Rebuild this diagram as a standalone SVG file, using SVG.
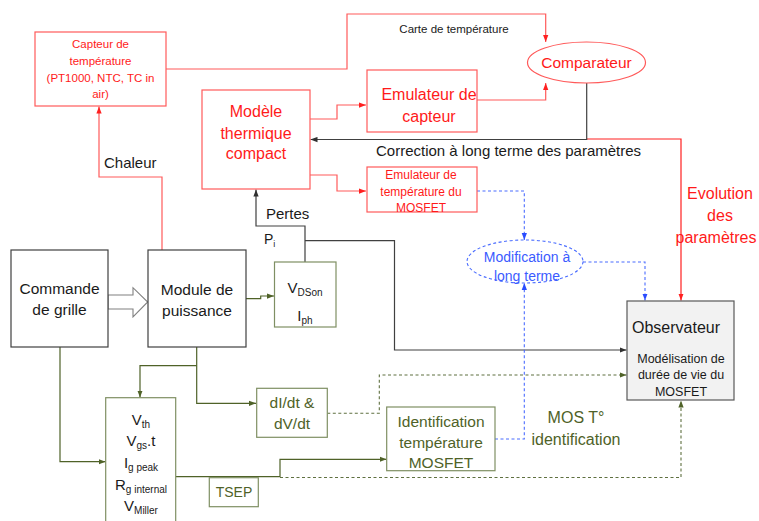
<svg xmlns="http://www.w3.org/2000/svg" width="759" height="521" viewBox="0 0 759 521">
<defs>
<style>
text{font-family:"Liberation Sans","DejaVu Sans",sans-serif;}
.bx{fill:#fff;stroke:#404040;stroke-width:1.2}
.rb{fill:#fff;stroke:#ff5a5a;stroke-width:1.2}
.gb{fill:#fff;stroke:#7f8f63;stroke-width:1.2}
.rt{fill:#ff1a1a}
.kt{fill:#1a1a1a}
.gt{fill:#4f6228}
.bt{fill:#3b5bff}
.c{text-anchor:middle}
.lr{fill:none;stroke:#ff5a5a;stroke-width:1.2;marker-end:url(#ar)}
.lr2{fill:none;stroke:#ff2020;stroke-width:1.2;marker-end:url(#ar)}
.lk{fill:none;stroke:#404040;stroke-width:1.2}
.lka{fill:none;stroke:#404040;stroke-width:1.2;marker-end:url(#ak)}
.lg{fill:none;stroke:#4f6228;stroke-width:1.2;marker-end:url(#ag)}
.lgd{fill:none;stroke:#5f7040;stroke-width:1.1;stroke-dasharray:3 2.5;marker-end:url(#ag)}
.lbd{fill:none;stroke:#4a6cff;stroke-width:1.1;stroke-dasharray:3 2.5;marker-end:url(#ab)}
</style>
<marker id="ar" viewBox="0 0 8 6" refX="8" refY="3" markerWidth="7" markerHeight="6" markerUnits="userSpaceOnUse" orient="auto"><path d="M0,0L8,3L0,6z" fill="#ff2020"/></marker>
<marker id="ak" viewBox="0 0 8 6" refX="8" refY="3" markerWidth="7" markerHeight="6" markerUnits="userSpaceOnUse" orient="auto"><path d="M0,0L8,3L0,6z" fill="#303030"/></marker>
<marker id="ag" viewBox="0 0 8 6" refX="8" refY="3" markerWidth="7" markerHeight="6" markerUnits="userSpaceOnUse" orient="auto"><path d="M0,0L8,3L0,6z" fill="#4f6228"/></marker>
<marker id="ab" viewBox="0 0 8 6" refX="8" refY="3" markerWidth="7" markerHeight="6" markerUnits="userSpaceOnUse" orient="auto"><path d="M0,0L8,3L0,6z" fill="#2a4cff"/></marker>
</defs>
<rect width="759" height="521" fill="#fff"/>

<g id="connectors">
<polyline class="lr" points="166,69 347,69 347,14 545.7,14 545.7,42"/>
<polyline class="lr" points="477,100 545.7,100 545.7,83"/>
<polyline class="lr" points="310,119 337,119 337,105 366,105"/>
<polyline class="lr" points="310,175 337,175 337,191 366,191"/>
<polyline class="lr" points="162,250 162,177 99,177 99,106.5"/>
<polyline class="lr2" points="587,139 681,139 681,300.5"/>
<polyline class="lka" points="586.7,83 586.7,139.5 310.5,139.5"/>
<polyline class="lka" points="305,262 305,226 256,226 256,189.5"/>
<polyline class="lka" points="305,240.7 394.5,240.7 394.5,350 626.5,350"/>
<polyline class="lg" points="246,298.7 260.7,298.7 260.7,296 274,296"/>
<polyline class="lg" points="196.7,347 196.7,403.3 256,403.3"/>
<polyline class="lg" points="196.7,365.7 140,365.7 140,397.5"/>
<polyline class="lg" points="60,347 60,461.7 105.5,461.7"/>
<polyline class="lg" points="175.7,476.7 280,476.7 280,459.3 386.5,459.3"/>
<polyline class="lgd" points="327.3,413.3 379.3,413.3 379.3,375 626.5,375"/>
<polyline class="lgd" points="280,477.5 681,477.5 681,400.5"/>
<polyline class="lbd" points="477,191 524.3,191 524.3,240"/>
<polyline class="lbd" points="583,262 645,262 645,300.5"/>
<polyline class="lbd" points="495,439 524.3,439 524.3,283"/>
<polygon points="108,295 133,295 133,287.7 147.7,302 133,317 133,309 108,309" fill="#fff" stroke="#808080" stroke-width="1.1"/>
</g>

<g id="labels">
<text class="kt c" x="454" y="33" font-size="11.5">Carte de température</text>
<text class="kt" x="376" y="156" font-size="15">Correction à long terme des paramètres</text>
<text class="rt c" x="720" y="199" font-size="16">Evolution</text>
<text class="rt c" x="720" y="221" font-size="16">des</text>
<text class="rt c" x="716" y="243" font-size="16">paramètres</text>
<text class="kt" x="104" y="168" font-size="15">Chaleur</text>
<text class="kt" x="266" y="219" font-size="15">Pertes</text>
<text class="kt" x="264" y="244" font-size="14">P<tspan font-size="9" dy="3">i</tspan></text>
<text class="gt c" x="576" y="423" font-size="16">MOS T°</text>
<text class="gt c" x="576" y="444.5" font-size="16">identification</text>
</g>

<g id="capteur">
<rect class="rb" x="35" y="32" width="131" height="74"/>
<text class="rt c" font-size="11.5"><tspan x="100.5" y="48">Capteur de</tspan><tspan x="100.5" y="65">température</tspan><tspan x="100.5" y="82">(PT1000, NTC, TC in</tspan><tspan x="100.5" y="98">air)</tspan></text>
</g>

<g id="comparateur">
<ellipse cx="586.5" cy="62.5" rx="59" ry="20.5" fill="#fff" stroke="#ff5a5a" stroke-width="1.2"/>
<text class="rt c" x="586.5" y="68" font-size="15.5">Comparateur</text>
</g>

<g id="emulateur-capteur">
<rect class="rb" x="367" y="70" width="110" height="62"/>
<text class="rt c" font-size="16"><tspan x="429" y="100">Emulateur de</tspan><tspan x="429" y="122">capteur</tspan></text>
</g>

<g id="modele">
<rect class="rb" x="202" y="90" width="108" height="99"/>
<text class="rt c" font-size="16"><tspan x="256" y="117">Modèle</tspan><tspan x="256" y="139">thermique</tspan><tspan x="256" y="159">compact</tspan></text>
</g>

<g id="emulateur-temp">
<rect class="rb" x="367" y="167" width="110" height="45"/>
<text class="rt c" font-size="12"><tspan x="421" y="178.5">Emulateur de</tspan><tspan x="421" y="195.5">température du</tspan><tspan x="421" y="212">MOSFET</tspan></text>
</g>

<g id="modification">
<ellipse cx="525" cy="261.5" rx="58" ry="21.5" fill="#fff" stroke="#4a6cff" stroke-width="1.1" stroke-dasharray="3 2.5"/>
<text class="bt c" font-size="14"><tspan x="527" y="262">Modification à</tspan><tspan x="527" y="281">long terme</tspan></text>
</g>

<g id="observateur">
<rect x="627" y="301" width="107" height="99" fill="#f2f2f2" stroke="#595959" stroke-width="1.2"/>
<text class="kt" x="632" y="333" font-size="16">Observateur</text>
<text class="kt c" font-size="12.5"><tspan x="681" y="362.5">Modélisation de</tspan><tspan x="681" y="379">durée de vie du</tspan><tspan x="681" y="395.5">MOSFET</tspan></text>
</g>

<g id="commande">
<rect class="bx" x="11" y="250" width="97" height="97"/>
<text class="kt c" font-size="15.5"><tspan x="59.5" y="294">Commande</tspan><tspan x="59.5" y="315">de grille</tspan></text>
</g>

<g id="module">
<rect class="bx" x="148" y="250" width="98" height="97"/>
<text class="kt c" font-size="15.5"><tspan x="197" y="294.5">Module de</tspan><tspan x="197" y="315.5">puissance</tspan></text>
</g>

<g id="vdson">
<rect class="gb" x="274.5" y="262" width="61.5" height="65"/>
<text class="kt c" x="305" y="293" font-size="15">V<tspan font-size="10" dy="3">DSon</tspan></text>
<text class="kt c" x="305" y="321" font-size="15">I<tspan font-size="10" dy="3">ph</tspan></text>
</g>

<g id="didt">
<rect class="gb" x="256.7" y="388.3" width="70.6" height="49"/>
<text class="gt c" font-size="15.5"><tspan x="292" y="408">dI/dt &amp;</tspan><tspan x="292" y="429">dV/dt</tspan></text>
</g>

<g id="vth">
<rect class="gb" x="105.7" y="397.7" width="70" height="135"/>
<text class="kt c" x="141" y="424.5" font-size="15">V<tspan font-size="10" dy="3">th</tspan></text>
<text class="kt c" x="141" y="446" font-size="15">V<tspan font-size="10" dy="3">gs</tspan><tspan dy="-3">.t</tspan></text>
<text class="kt c" x="141" y="468" font-size="15">I<tspan font-size="10" dy="3">g peak</tspan></text>
<text class="kt c" x="141" y="490" font-size="15">R<tspan font-size="10" dy="3">g internal</tspan></text>
<text class="kt c" x="141" y="511" font-size="15">V<tspan font-size="10" dy="3">Miller</tspan></text>
</g>

<g id="tsep">
<rect class="gb" x="209.3" y="477.7" width="49" height="29"/>
<text class="gt c" x="234" y="497" font-size="14">TSEP</text>
</g>

<g id="identification">
<rect class="gb" x="386.7" y="407" width="108.3" height="63.7"/>
<text class="gt c" font-size="15.5"><tspan x="441" y="426.5">Identification</tspan><tspan x="441" y="447.5">température</tspan><tspan x="441" y="467.5">MOSFET</tspan></text>
</g>
</svg>
